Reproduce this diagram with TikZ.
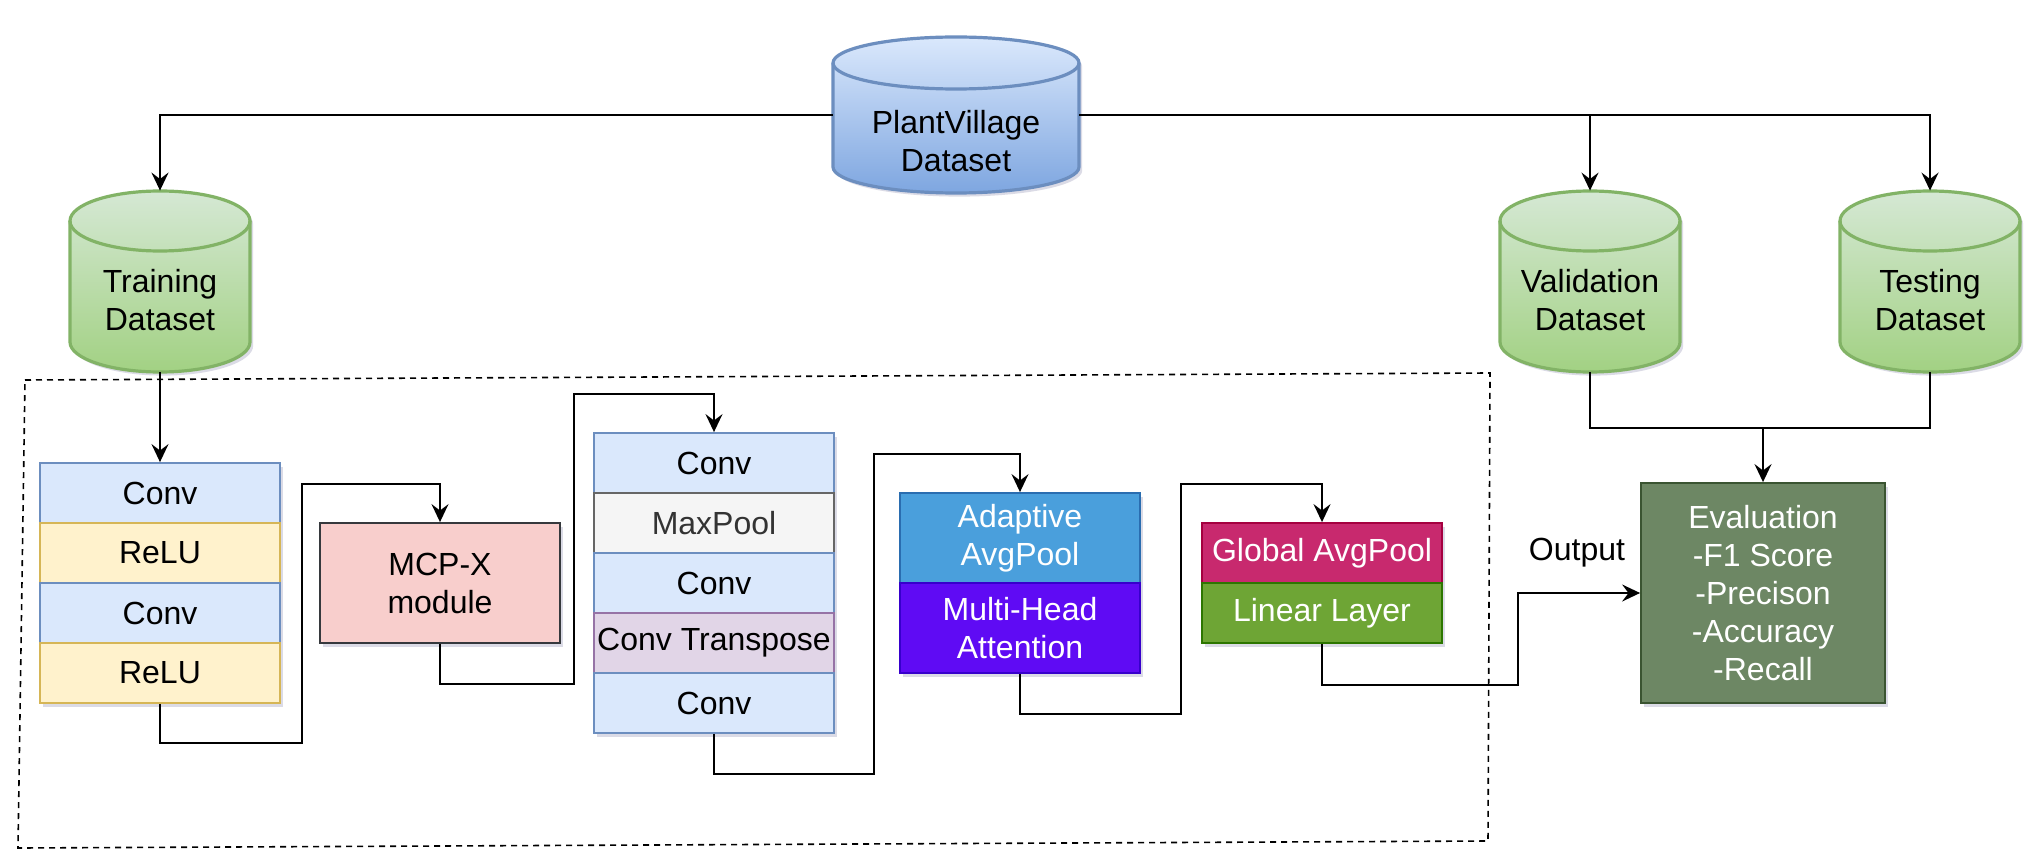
\documentclass[tikz,border=0pt]{standalone}
\usepackage{fontspec}
\setmainfont{Liberation Sans}
\usetikzlibrary{arrows.meta,shadows}
\definecolor{convf}{HTML}{DAE8FC}\definecolor{convd}{HTML}{6C8EBF}
\definecolor{reluf}{HTML}{FFF2CC}\definecolor{relud}{HTML}{D6B656}
\definecolor{mcpf}{HTML}{F8CECC}\definecolor{mcpd}{HTML}{36393D}
\definecolor{mpf}{HTML}{F5F5F5}\definecolor{mpd}{HTML}{666666}\definecolor{mpt}{HTML}{333333}
\definecolor{ctf}{HTML}{E1D5E7}\definecolor{ctd}{HTML}{9673A6}
\definecolor{adf}{HTML}{4A9FDC}\definecolor{add}{HTML}{2A6DB0}
\definecolor{mhf}{HTML}{5F0BF4}\definecolor{mhd}{HTML}{3700CC}
\definecolor{gaf}{HTML}{C8296E}\definecolor{gad}{HTML}{A50040}
\definecolor{llf}{HTML}{6EA535}\definecolor{lld}{HTML}{2D7600}
\definecolor{evf}{HTML}{6D8764}\definecolor{evd}{HTML}{3A5431}
\definecolor{gtop}{HTML}{D5E8D4}\definecolor{gbot}{HTML}{A2D183}\definecolor{gstr}{HTML}{82B366}
\definecolor{btop}{HTML}{DAE8FC}\definecolor{bbot}{HTML}{7EA6E0}\definecolor{bstr}{HTML}{6C8EBF}
\definecolor{shc}{HTML}{9A9AB8}
\tikzset{
  myshadow/.style={drop shadow={shadow xshift=1.6pt,shadow yshift=-1.8pt,fill=shc,opacity=0.35}},
  txt/.style={font=\fontsize{16}{19}\selectfont, align=center, inner sep=0pt},
  cell/.style={txt, draw, line width=0.9pt, minimum width=120pt, minimum height=30pt, myshadow},
  arr/.style={line width=1pt, -{Stealth[length=9pt,width=8.5pt,inset=3.2pt]}},
  ln/.style={line width=1pt},
}
\newcommand\dbcyl[8]{%
  \path[shading=axis, top color=#6, bottom color=#7, draw=#8, line width=1.6pt, myshadow]
    ({#1-2*#4},{#2+2*#5}) -- ({#1-2*#4},{#3-2*#5})
    arc[start angle=180,end angle=360,x radius=#4pt,y radius=#5pt]
    -- ({#1+2*#4},{#2+2*#5})
    arc[start angle=0,end angle=180,x radius=#4pt,y radius=#5pt] -- cycle;
  \draw[#8, line width=1.6pt] ({#1-2*#4},{#2+2*#5})
    arc[start angle=180,end angle=360,x radius=#4pt,y radius=#5pt];
}
\begin{document}
\begin{tikzpicture}[x=0.5pt,y=-0.5pt]
\useasboundingbox (0,0) rectangle (2043,866);
\fill[white] (0,0) rectangle (2043,866);

% cylinders
\dbcyl{956}{37}{193}{61.5}{13}{btop}{bbot}{bstr}
\dbcyl{160}{191}{372}{45}{15}{gtop}{gbot}{gstr}
\dbcyl{1590}{191}{372}{45}{15}{gtop}{gbot}{gstr}
\dbcyl{1930}{191}{372}{45}{15}{gtop}{gbot}{gstr}

\node[inner sep=0pt, minimum width=123pt, minimum height=78pt] (pv) at (956,115) {};
\node[inner sep=0pt, minimum width=90pt, minimum height=90.5pt] (train) at (160,281.5) {};
\node[inner sep=0pt, minimum width=90pt, minimum height=90.5pt] (val) at (1590,281.5) {};
\node[inner sep=0pt, minimum width=90pt, minimum height=90.5pt] (test) at (1930,281.5) {};
\node[txt] (pvt) at (956,141) {PlantVillage\\Dataset};
\node[txt] (traint) at (160,300) {Training\\Dataset};
\node[txt] (valt) at (1590,300) {Validation\\Dataset};
\node[txt] (testt) at (1930,300) {Testing\\Dataset};

% dashed frame
\draw[line width=0.8pt, dash pattern=on 3pt off 2.5pt] (25,380) -- (1490,373) -- (1488,841) -- (18,848) -- cycle;

% left stack
\node[cell, fill=convf, draw=convd] (c1) at (160,493) {Conv};
\node[cell, fill=reluf, draw=relud] (r1) at (160,553) {ReLU};
\node[cell, fill=convf, draw=convd] (c2) at (160,613) {Conv};
\node[cell, fill=reluf, draw=relud] (r2) at (160,673) {ReLU};

% MCP
\node[cell, fill=mcpf, draw=mcpd, minimum height=60pt] (mcp) at (440,583) {MCP-X\\module};

% middle stack
\node[cell, fill=convf, draw=convd] (m1) at (714,463) {Conv};
\node[cell, fill=mpf, draw=mpd, text=mpt] (m2) at (714,523) {MaxPool};
\node[cell, fill=convf, draw=convd] (m3) at (714,583) {Conv};
\node[cell, fill=ctf, draw=ctd] (m4) at (714,643) {Conv Transpose};
\node[cell, fill=convf, draw=convd] (m5) at (714,703) {Conv};

% attention block
\node[cell, fill=adf, draw=add, text=white, minimum height=45pt] (ada) at (1020,538) {Adaptive\\AvgPool};
\node[cell, fill=mhf, draw=mhd, text=white, minimum height=45pt] (mha) at (1020,628) {Multi-Head\\Attention};

% head
\node[cell, fill=gaf, draw=gad, text=white] (gap) at (1322,553) {Global AvgPool};
\node[cell, fill=llf, draw=lld, text=white] (lin) at (1322,613) {Linear Layer};

% evaluation
\node[cell, fill=evf, draw=evd, text=white, minimum width=122pt, minimum height=110pt] (eval) at (1763,593)
  {Evaluation\\-F1 Score\\-Precison\\-Accuracy\\-Recall};
\node[txt] (outl) at (1577,553) {Output};

% connectors
\draw[arr, line width=1.2pt] (pv.west) -| (train.north);
\draw[arr, line width=1.2pt] (pv.east) -| (test.north);
\draw[arr] (pv.east -| val.north) -- (val.north);
\coordinate (j) at (1763,428);
\draw[ln, line width=1.2pt] (val.south) |- (j) -| (test.south);
\draw[arr] (j) -- (eval.north);

\draw[arr] (train.south) -- (c1.north);
\draw[arr] (r2.south) -- ++(0,39) -- ++(142,0) -- ++(0,-259) -| (mcp.north);
\draw[arr] (mcp.south) -- ++(0,40) -- ++(134,0) -- ++(0,-290) -| (m1.north);
\draw[arr] (m5.south) -- ++(0,40) -- ++(160,0) -- ++(0,-320) -| (ada.north);
\draw[arr] (mha.south) -- ++(0,40) -- ++(161,0) -- ++(0,-230) -| (gap.north);
\draw[arr] (lin.south) -- ++(0,41) -- ++(196,0) |- (eval.west);
\end{tikzpicture}
\end{document}
